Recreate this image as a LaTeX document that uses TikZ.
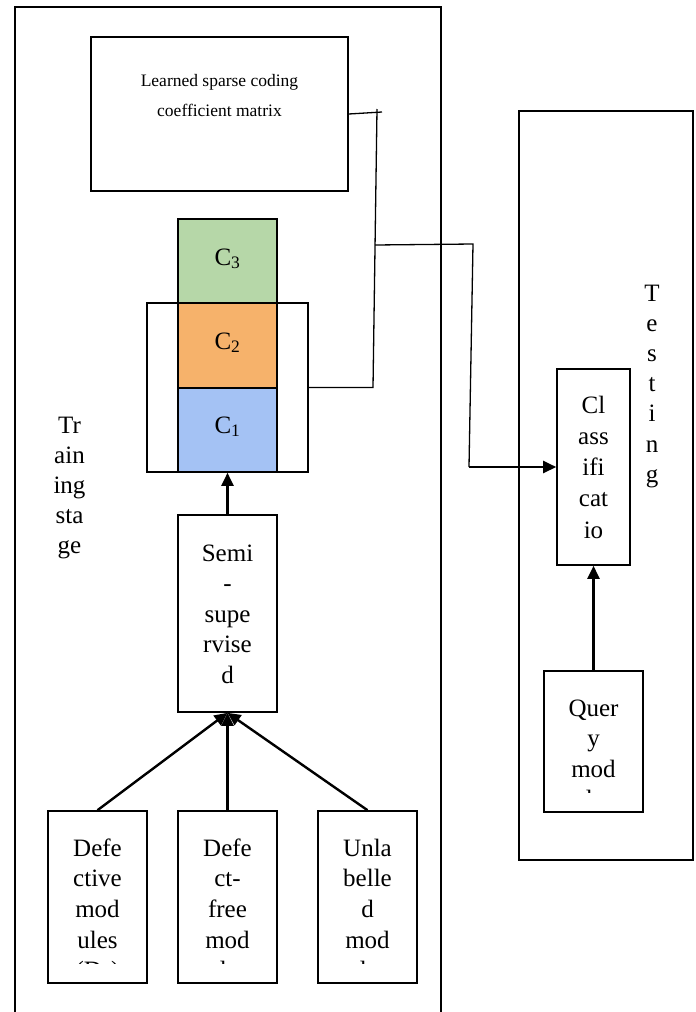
\documentclass[tikz,border=0pt]{standalone}
\usepackage{fontspec}
\setmainfont{Liberation Serif}
\usetikzlibrary{arrows.meta}
\definecolor{cgreen}{HTML}{B6D7A8}
\definecolor{corange}{HTML}{F6B26B}
\definecolor{cblue}{HTML}{A4C2F4}
\begin{document}
\begin{tikzpicture}[x=1pt,y=-1pt,
  box/.style={draw,line width=1.6pt,inner sep=0pt},
  framebox/.style={draw,line width=1.3pt,inner sep=0pt},
  conn/.style={line width=1.3pt},
  arr/.style={line width=2.4pt,-{Triangle[length=13pt,width=12pt]}},
  big/.style={font=\fontsize{25}{30}\selectfont,inner sep=0pt,anchor=base},
  small/.style={font=\fontsize{17.5}{21}\selectfont,inner sep=0pt,anchor=base}]
\useasboundingbox (0,0) rectangle (696,1012);

% training frame (open at the bottom)
\draw[conn] (15,1016) -- (15,7) -- (441,7) -- (441,1016);

% testing frame
\node[framebox,minimum width=174pt,minimum height=749pt] (testing) at (606,485.5) {};

% learned matrix box
\node[box,minimum width=257pt,minimum height=154pt] (learned) at (219.5,114) {};
\node[small] (l1) at (219.5,86) {Learned sparse coding};
\node[small] (l2) at (219.5,116) {coefficient matrix};

% C stack
\node[box,minimum width=161pt,minimum height=169pt] (cbox) at (227.5,387.5) {};
\node[box,fill=cgreen,minimum width=99pt,minimum height=84pt] (c3) at (227.5,261) {};
\node[box,fill=corange,minimum width=99pt,minimum height=85pt] (c2) at (227.5,345.5) {};
\node[box,fill=cblue,minimum width=99pt,minimum height=84pt] (c1) at (227.5,430) {};
\node[big] (c3t) at (227.5,265) {C\textsubscript{3}};
\node[big] (c2t) at (227.5,349) {C\textsubscript{2}};
\node[big] (c1t) at (227.5,433) {C\textsubscript{1}};

% semi-supervised box
\node[box,minimum width=99pt,minimum height=197pt] (semi) at (227.5,613.5) {};
\foreach \t [count=\k from 0] in {Semi,-,supe,rvise,d}
  \node[big] (st\k) at (227.5,{561+30.5*\k}) {\t};

% bottom boxes
\node[box,minimum width=99pt,minimum height=172pt] (b1) at (97.5,897) {};
\node[box,minimum width=99pt,minimum height=172pt] (b2) at (227.5,897) {};
\node[box,minimum width=99pt,minimum height=172pt] (b3) at (367.5,897) {};
\begin{scope}
\clip (48,811) rectangle (147,963);
\foreach \t [count=\k from 0] in {Defe,ctive,mod,ules,{(D\textsubscript{d})}}
  \node[big] (ta\k) at (97.5,{856+30.7*\k}) {\t};
\end{scope}
\begin{scope}
\clip (178,811) rectangle (277,963);
\foreach \t [count=\k from 0] in {Defe,ct-,free,mod,ules}
  \node[big] (tb\k) at (227.5,{856+30.7*\k}) {\t};
\end{scope}
\begin{scope}
\clip (318,811) rectangle (417,963);
\foreach \t [count=\k from 0] in {Unla,belle,d,mod,ules}
  \node[big] (tc\k) at (367.5,{856+30.7*\k}) {\t};
\end{scope}

% training stage label
\foreach \t [count=\k from 0] in {Tr,ain,ing,sta,ge}
  \node[big] (tr\k) at (69.5,{433+30*\k}) {\t};

% testing label
\foreach \t [count=\k from 0] in {T,e,s,t,i,n,g}
  \node[big] (te\k) at (652,{301+30.2*\k}) {\t};

% classification box
\node[box,minimum width=73pt,minimum height=196pt] (cls) at (593.5,467) {};
\foreach \t [count=\k from 0] in {Cl,ass,ifi,cat,io}
  \node[big] (ct\k) at (593.5,{413+31.3*\k}) {\t};

% query box
\node[box,minimum width=99pt,minimum height=141pt] (query) at (593.5,741.5) {};
\begin{scope}
\clip (544,671) rectangle (643,792);
\foreach \t [count=\k from 0] in {Quer,y,mod,ules}
  \node[big] (qt\k) at (593.5,{716+30.5*\k}) {\t};
\end{scope}

% connectors
\coordinate (h1) at (382,112);
\coordinate (v1a) at (377,109);
\coordinate (v1b) at (373,387.5);
\coordinate (br1) at (375,245);
\coordinate (br2) at (473,244);
\coordinate (br3) at (469,467);
\draw[conn] (learned.east) -- (h1);
\draw[conn] (v1a) -- (v1b) -- (cbox.east);
\draw[conn] (br1) -- (br2) -- (br3);
\draw[arr] (br3) -- (cls.west);

\draw[arr] (semi.north) -- (c1.south);
\draw[arr] (b1.north) -- (semi.south);
\draw[arr] (b2.north) -- (semi.south);
\draw[arr] (b3.north) -- (semi.south);
\draw[arr] (query.north) -- (cls.south);
\end{tikzpicture}
\end{document}
